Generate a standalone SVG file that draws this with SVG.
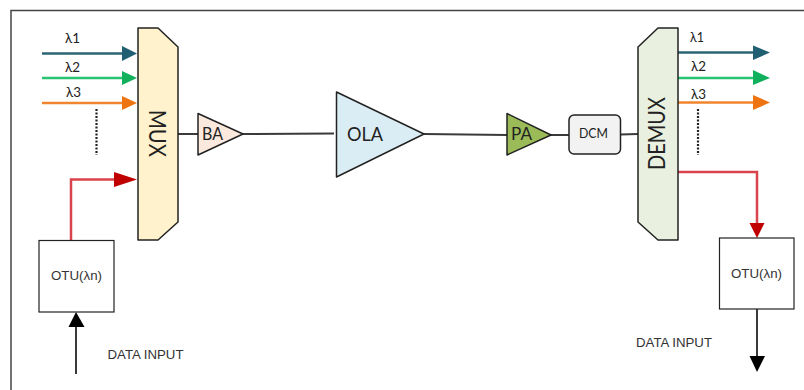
<svg xmlns="http://www.w3.org/2000/svg" width="804" height="390" viewBox="0 0 804 390">
<style>
text{font-family:Lato,"Open Sans","Liberation Sans",sans-serif;fill:#222}
.s{fill:none;stroke-width:2.500}
.k{fill:none;stroke:#3a3a3a;stroke-width:2}
.n{stroke:#222;stroke-width:1.500;stroke-linejoin:round}
.l{font-size:14px}
.d{font-family:"Liberation Sans",Arial,sans-serif;font-size:12px;fill:#333}
.v{fill:none;stroke:#222;stroke-width:2.200;stroke-dasharray:2 1.500}
</style>
<rect width="804" height="390" fill="#fff"/>
<path id="frame" d="M11 390V10.500H804" fill="none" stroke="#444" stroke-width="1.500"/>
<g id="connectors">
<path class="s" stroke="#2b6475" d="M42 53.500H124"/><path fill="#215f72" d="M122 46L137 53.500L122 61Z"/>
<path class="s" stroke="#27c472" d="M42 78H124"/><path fill="#10b05c" d="M122 71L137 78L122 85Z"/>
<path class="s" stroke="#f0842f" d="M42 103H124"/><path fill="#ee7411" d="M122 96L137 103L122 110Z"/>
<path class="v" d="M96.500 109V155"/>
<path class="s" stroke="#d9434b" d="M71 240V179.500H116"/><path fill="#c00000" d="M114 172L137 179.500L114 187Z"/>
<path class="k" d="M178 134H198"/>
<path class="k" d="M243 134L334 133.500"/>
<path class="k" d="M424 134L507 135"/>
<path class="k" d="M551 135H569"/>
<path class="k" d="M620 134.500L638 134"/>
<path class="s" stroke="#2b6475" d="M678 52.500H755"/><path fill="#215f72" d="M753 45.500L770 52.500L753 60Z"/>
<path class="s" stroke="#27c472" d="M678 78H755"/><path fill="#10b05c" d="M753 70L770 78L753 85Z"/>
<path class="s" stroke="#f0842f" d="M678 102.500H755"/><path fill="#ee7411" d="M753 95L770 102.500L753 110Z"/>
<path class="v" d="M698 109V155"/>
<path class="s" stroke="#d9434b" d="M678 172H757V225"/><path fill="#c00000" d="M749.500 223H764.500L757 238Z"/>
<path class="k" d="M757 309V358"/><path fill="#000" d="M749.500 356H765L757 372Z"/>
<path class="k" d="M76 374V325"/><path fill="#000" d="M68.500 327H84.500L76 312Z"/>
</g>
<g id="mux"><path class="n" fill="#fff2cc" d="M138 28H158L178 47V222L158 240H138Z"/><text transform="translate(148.500 133.500) rotate(90)" text-anchor="middle" font-size="23" textLength="47" lengthAdjust="spacingAndGlyphs">MUX</text></g>
<g id="ba"><path class="n" fill="#fbe9dd" d="M198 113.500V155L243 134Z"/><text x="212.500" y="140" text-anchor="middle" font-size="17" textLength="21" lengthAdjust="spacingAndGlyphs">BA</text></g>
<g id="ola"><path class="n" fill="#dbedf4" d="M336.500 92V177L424 134Z"/><text x="365" y="141" text-anchor="middle" font-size="20" textLength="36" lengthAdjust="spacingAndGlyphs">OLA</text></g>
<g id="pa"><path class="n" fill="#9bbb59" d="M507 113.500V155L551 135Z"/><text x="521.500" y="140" text-anchor="middle" font-size="17" textLength="21" lengthAdjust="spacingAndGlyphs">PA</text></g>
<g id="dcm"><rect class="n" fill="#f2f2f2" x="569" y="115" width="51.500" height="39" rx="5"/><text x="593.500" y="138" text-anchor="middle" font-size="12.500" textLength="29" lengthAdjust="spacingAndGlyphs">DCM</text></g>
<g id="demux"><path class="n" fill="#e9f0df" d="M638 47L658 28H678V240H658L638 222Z"/><text transform="translate(665 133.500) rotate(-90)" text-anchor="middle" font-size="23" textLength="73" lengthAdjust="spacingAndGlyphs">DEMUX</text></g>
<g id="otu-left"><rect x="39" y="240.500" width="75" height="71.500" fill="#fff" stroke="#222" stroke-width="1.200"/><text class="d" x="76.500" y="279.500" text-anchor="middle" textLength="51" lengthAdjust="spacingAndGlyphs">OTU(λn)</text></g>
<g id="otu-right"><rect x="719.500" y="238" width="74.500" height="71" fill="#fff" stroke="#222" stroke-width="1.200"/><text class="d" x="756.500" y="278" text-anchor="middle" textLength="51" lengthAdjust="spacingAndGlyphs">OTU(λn)</text></g>
<text class="l" x="65" y="43" textLength="15" lengthAdjust="spacingAndGlyphs">λ1</text><text class="l" x="65" y="72" textLength="15" lengthAdjust="spacingAndGlyphs">λ2</text><text class="l" x="66" y="97" textLength="15" lengthAdjust="spacingAndGlyphs">λ3</text>
<text class="l" x="690" y="42" textLength="14" lengthAdjust="spacingAndGlyphs">λ1</text><text class="l" x="691" y="71" textLength="15" lengthAdjust="spacingAndGlyphs">λ2</text><text class="l" x="691" y="99" textLength="15" lengthAdjust="spacingAndGlyphs">λ3</text>
<text class="d" x="107.500" y="359" textLength="76" lengthAdjust="spacingAndGlyphs">DATA INPUT</text>
<text class="d" x="636" y="346.500" textLength="76" lengthAdjust="spacingAndGlyphs">DATA INPUT</text>
</svg>
